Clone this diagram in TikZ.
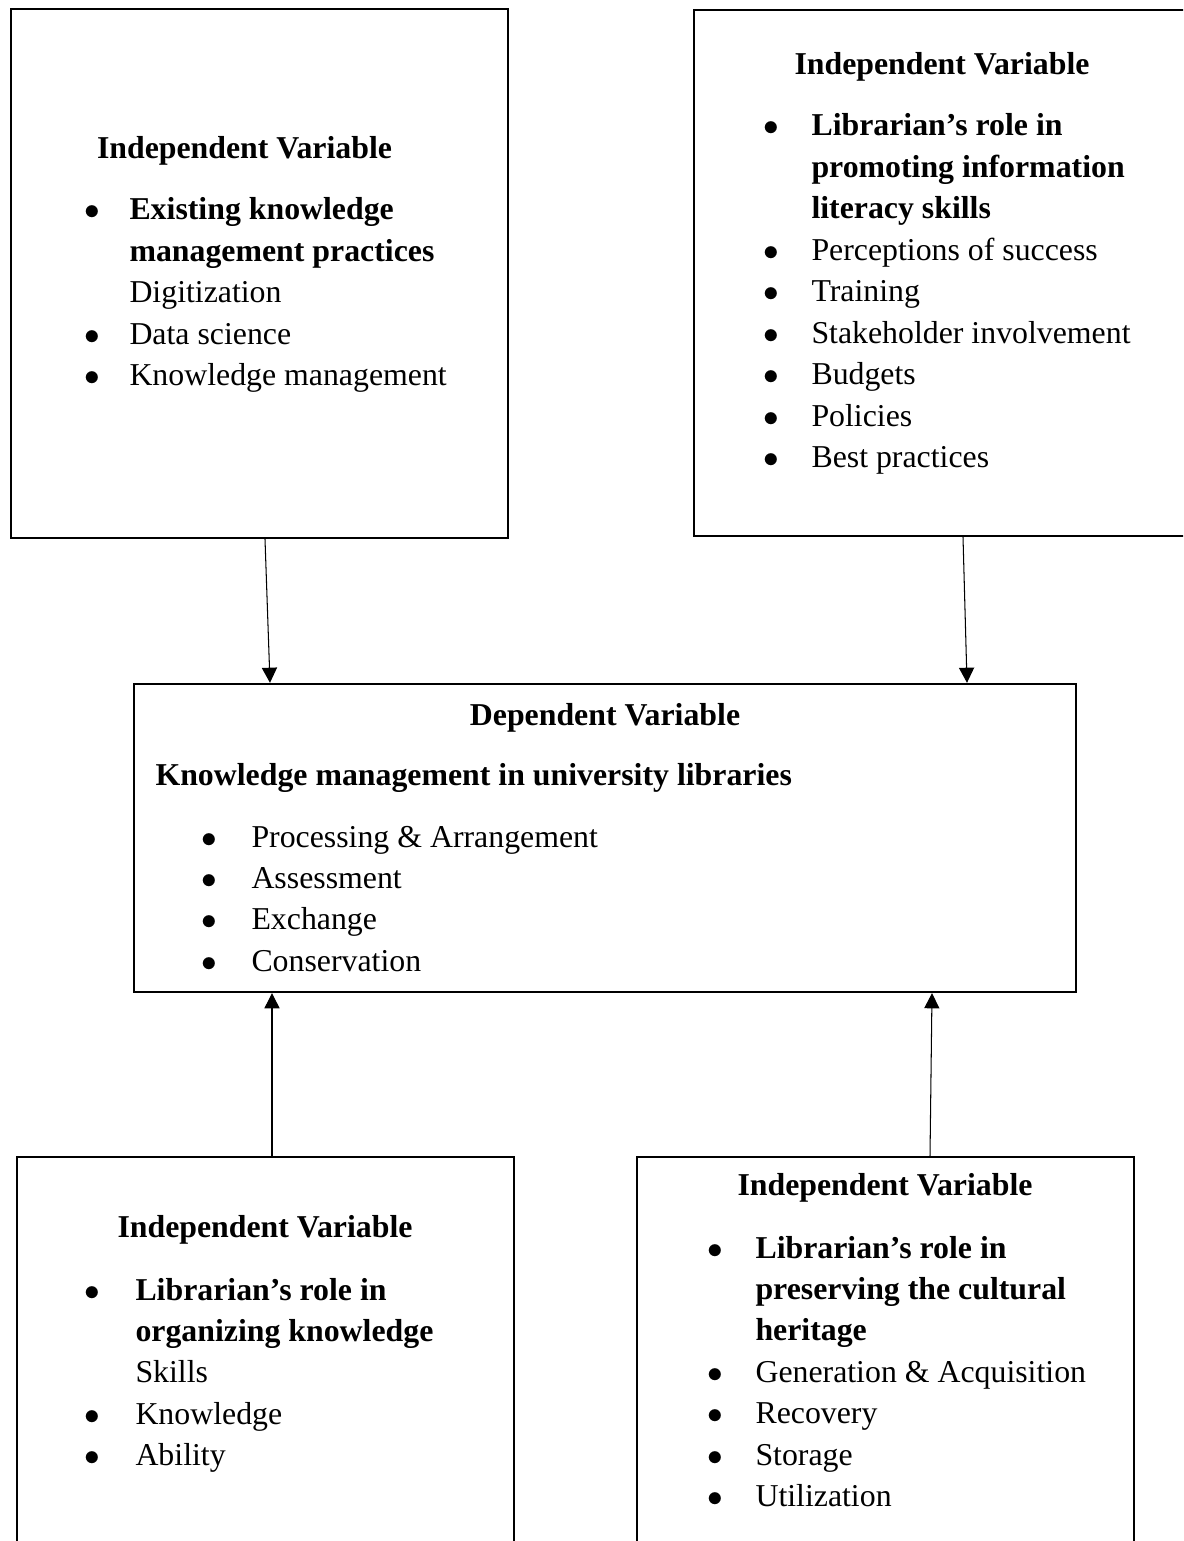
\documentclass[tikz,border=0pt]{standalone}
\usepackage{fontspec}
\setmainfont{Liberation Serif}
\usetikzlibrary{arrows.meta,fit,positioning}

\newcommand{\bul}[1]{\llap{\makebox[0pt][c]{$\bullet$}\hspace{#1}}}
\newcommand{\lines}[1]{\begin{tabular}[t]{@{}l@{}}#1\end{tabular}}

\begin{document}
\begin{tikzpicture}[x=0.3834pt,y=-0.3834pt,
    box/.style={draw,line width=0.9pt,inner sep=0pt},
    head/.style={font=\fontsize{12.2}{15.9}\selectfont\bfseries,anchor=base,inner sep=0pt},
    list/.style={anchor=base west,inner sep=0pt,font=\fontsize{12.2}{15.9}\selectfont},
    link/.style={line width=0.4pt,-{Triangle[width=5.8pt,length=5.8pt]}}]
    \useasboundingbox (0,0) rectangle (1183,1541);
    \clip (0,0) rectangle (1183,1541);
    % boxes
    \node[box,fit={(11,9) (508,538)}] (ivKM) {};
    \node[box,fit={(694,10) (1190,536)}] (ivLit) {};
    \node[box,fit={(134,684) (1076,992)}] (dvKM) {};
    \node[box,fit={(17,1157) (514,1600)}] (ivOrg) {};
    \node[box,fit={(637,1157) (1134,1600)}] (ivHer) {};
    % top left
    \node[head] (ivKM-title) at (244.5,159) {Independent Variable};
    \node[list] (ivKM-list) at (129,220) {\lines{\bul{14.2pt}\textbf{Existing knowledge}\\
        \textbf{management practices}\\
        Digitization\\
        \bul{14.2pt}Data science\\
        \bul{14.2pt}Knowledge management}};
    % top right
    \node[head] (ivLit-title) at (942,75) {Independent Variable};
    \node[list] (ivLit-list) at (811,136) {\lines{\bul{15.3pt}\textbf{Librarian’s role in}\\
        \textbf{promoting information}\\
        \textbf{literacy skills}\\
        \bul{15.3pt}Perceptions of success\\
        \bul{15.3pt}Training\\
        \bul{15.3pt}Stakeholder involvement\\
        \bul{15.3pt}Budgets\\
        \bul{15.3pt}Policies\\
        \bul{15.3pt}Best practices}};
    % middle
    \node[head] (dvKM-title) at (605,725) {Dependent Variable};
    \node[head,anchor=base west] (dvKM-sub) at (155,785) {Knowledge management in university libraries};
    \node[list] (dvKM-list) at (251,847) {\lines{\bul{16.1pt}Processing \& Arrangement\\
        \bul{16.1pt}Assessment\\
        \bul{16.1pt}Exchange\\
        \bul{16.1pt}Conservation}};
    % bottom left
    \node[head] (ivOrg-title) at (265,1237) {Independent Variable};
    \node[list] (ivOrg-list) at (135,1300) {\lines{\bul{16.5pt}\textbf{Librarian’s role in}\\
        \textbf{organizing knowledge}\\
        Skills\\
        \bul{16.5pt}Knowledge\\
        \bul{16.5pt}Ability}};
    % bottom right
    \node[head] (ivHer-title) at (885,1195) {Independent Variable};
    \node[list] (ivHer-list) at (755,1258) {\lines{\bul{15.3pt}\textbf{Librarian’s role in}\\
        \textbf{preserving the cultural}\\
        \textbf{heritage}\\
        \bul{15.3pt}Generation \& Acquisition\\
        \bul{15.3pt}Recovery\\
        \bul{15.3pt}Storage\\
        \bul{15.3pt}Utilization}};
    % arrows
    \draw[link] (ivKM.south -| 265,0) -- (dvKM.north -| 270,0);
    \draw[link] (ivLit.south -| 963,0) -- (dvKM.north -| 967,0);
    \draw[link] (ivOrg.north -| 272,0) -- (dvKM.south -| 272,0);
    \draw[link] (ivHer.north -| 930,0) -- (dvKM.south -| 932,0);
\end{tikzpicture}
\end{document}
